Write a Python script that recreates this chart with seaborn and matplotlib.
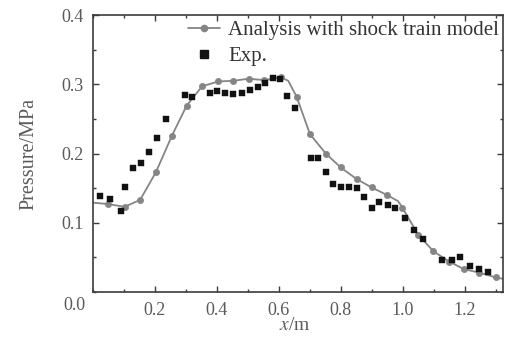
import matplotlib
matplotlib.use("Agg")
import matplotlib.pyplot as plt
from matplotlib.lines import Line2D
from matplotlib.ticker import MultipleLocator
import seaborn as sns
import pandas as pd

# Model (analysis with shock train model) marker points
model_x = [0.048, 0.102, 0.152, 0.203, 0.254, 0.302, 0.352, 0.404, 0.453, 0.502,
           0.552, 0.606, 0.657, 0.700, 0.751, 0.799, 0.851, 0.899, 0.949, 0.998,
           1.049, 1.098, 1.149, 1.197, 1.246, 1.300]
model_y = [0.127, 0.123, 0.133, 0.173, 0.225, 0.269, 0.297, 0.304, 0.305, 0.308,
           0.306, 0.310, 0.282, 0.228, 0.200, 0.180, 0.163, 0.151, 0.140, 0.122,
           0.083, 0.059, 0.044, 0.033, 0.028, 0.021]

# Model curve (markers plus visible line ends / corner)
curve_x = [0.0] + model_x[:12] + [0.630] + model_x[12:19] + [0.985] + model_x[19:] + [1.323]
curve_y = [0.129] + model_y[:12] + [0.305] + model_y[12:19] + [0.131] + model_y[19:] + [0.019]

# Experimental data
exp_x = [0.023, 0.055, 0.089, 0.103, 0.129, 0.155, 0.181, 0.205, 0.234, 0.297,
         0.318, 0.377, 0.399, 0.426, 0.453, 0.480, 0.506, 0.533, 0.555, 0.582,
         0.603, 0.627, 0.652, 0.702, 0.727, 0.752, 0.773, 0.799, 0.826, 0.851,
         0.874, 0.899, 0.924, 0.951, 0.976, 1.006, 1.035, 1.065, 1.125, 1.157,
         1.184, 1.216, 1.246, 1.275]
exp_y = [0.138, 0.134, 0.117, 0.151, 0.179, 0.186, 0.202, 0.222, 0.250, 0.285,
         0.282, 0.288, 0.290, 0.288, 0.286, 0.288, 0.292, 0.296, 0.302, 0.309,
         0.307, 0.283, 0.265, 0.193, 0.193, 0.174, 0.156, 0.152, 0.151, 0.150,
         0.137, 0.121, 0.130, 0.126, 0.121, 0.107, 0.090, 0.076, 0.046, 0.046,
         0.050, 0.038, 0.033, 0.029]

x_ticks = [0.2, 0.4, 0.6, 0.8, 1.0, 1.2]
x_tick_labels = ["0.2", "0.4", "0.6", "0.8", "1.0", "1.2"]
y_ticks = [0.1, 0.2, 0.3, 0.4]
y_tick_labels = ["0.1", "0.2", "0.3", "0.4"]

sns.set_style("ticks")
plt.rcParams["font.family"] = ["Liberation Serif", "DejaVu Serif"]

text_col = "#5a5a5a"
axis_col = "#3c3c3c"
model_col = "#858585"

fig = plt.figure(figsize=(5.05, 3.37), dpi=100)
ax = fig.add_axes([93/505, 1-292/337, 410/505, 277/337])

curve = pd.DataFrame({"x": curve_x, "y": curve_y})
mk = pd.DataFrame({"x": model_x, "y": model_y})
ex = pd.DataFrame({"x": exp_x, "y": exp_y})

sns.lineplot(data=curve, x="x", y="y", ax=ax, color=model_col, lw=1.3,
             sort=False, estimator=None)
sns.scatterplot(data=mk, x="x", y="y", ax=ax, color=model_col, marker="o",
                s=20, edgecolor=model_col, linewidth=0.5, zorder=3)
sns.scatterplot(data=ex, x="x", y="y", ax=ax, color="#111111", marker="s",
                s=22, edgecolor="#111111", linewidth=0.3, zorder=4)

ax.set_xlim(0, 1.323)
ax.set_ylim(0, 0.4)
ax.set_xticks(x_ticks)
ax.set_xticklabels(x_tick_labels)
ax.set_yticks(y_ticks)
ax.set_yticklabels(y_tick_labels)
ax.xaxis.set_minor_locator(MultipleLocator(0.1))
ax.yaxis.set_minor_locator(MultipleLocator(0.05))
ax.tick_params(which="both", direction="in", top=True, right=True,
               color=axis_col, labelcolor=text_col, labelsize=13, pad=7)
ax.tick_params(which="major", length=4, width=1.0)
ax.tick_params(which="minor", length=2.5, width=1.0)
for s in ax.spines.values():
    s.set_color(axis_col)
    s.set_linewidth(1.2)

ax.set_xlabel("")
ax.set_ylabel("Pressure/MPa", color=text_col, fontsize=14.5)
ax.yaxis.set_label_coords(-0.133, 0.5)
fig.text(295/505, 1-325/337, r"$x$/m", color=text_col, fontsize=14,
         ha="center", va="center", math_fontfamily="stix")
fig.text(74/505, 1-306/337, "0.0", color=text_col, fontsize=13,
         ha="center", va="center")

handles = [
    Line2D([0], [0], color=model_col, lw=1.3, marker="o", markersize=4.5),
    Line2D([0], [0], color="none", marker="s", markersize=5.5,
           markerfacecolor="#111111", markeredgecolor="#111111"),
]
leg = ax.legend(handles, ["Analysis with shock train model", "Exp."],
                loc="upper left", bbox_to_anchor=(0.2, 1.025), frameon=False,
                fontsize=15, handlelength=1.55, handletextpad=0.4,
                labelspacing=0.3, borderaxespad=0.2)
for t in leg.get_texts():
    t.set_color("#333333")

fig.savefig("out.png", dpi=100)
